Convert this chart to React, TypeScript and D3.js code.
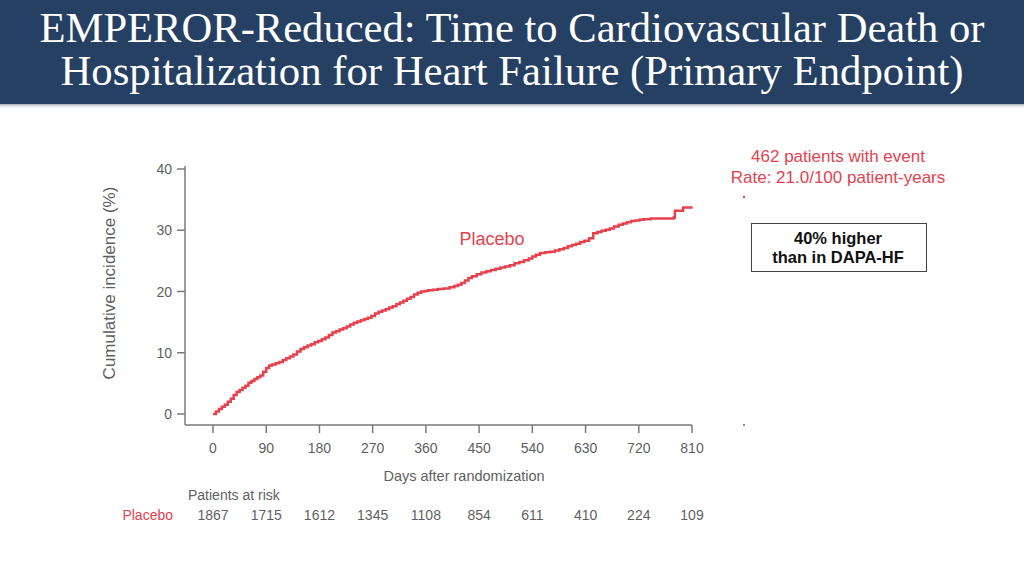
import React from 'react';
import * as d3 from 'd3';

const titleLines = [
  'EMPEROR-Reduced: Time to Cardiovascular Death or',
  'Hospitalization for Heart Failure (Primary Endpoint)',
];

const xTicks = [0, 90, 180, 270, 360, 450, 540, 630, 720, 810];
const yTicks = [0, 10, 20, 30, 40];
const atRisk = [1867, 1715, 1612, 1345, 1108, 854, 611, 410, 224, 109];

const days = [
  0, 5, 10, 15, 20, 25, 30, 35, 40, 45, 50, 55, 60, 65, 70, 75, 80, 85, 90, 95, 100, 106, 112, 118, 124, 130, 136, 142, 148,
  154, 160, 166, 172, 178, 184, 190, 196, 202, 208, 214, 220, 226, 232, 238, 244, 250, 256, 262, 268, 274, 280, 286, 292,
  298, 304, 310, 316, 322, 328, 334, 340, 346, 352, 358, 364, 372, 380, 390, 400, 408, 414, 420, 426, 432, 438, 446, 454,
  462, 470, 478, 486, 494, 502, 510, 518, 526, 534, 540, 546, 553, 562, 570, 578, 586, 593, 600, 607, 614, 621, 628, 636,
  643, 650, 657, 664, 671, 678, 686, 693, 700, 707, 714, 721, 728, 740, 750, 765, 779, 781, 795, 811,
];
const incidence = [
  0, 0.4, 0.8, 1.2, 1.5, 2.0, 2.5, 3.1, 3.6, 3.9, 4.3, 4.6, 5.1, 5.4, 5.7, 6.0, 6.3, 6.9, 7.5, 7.9, 8.1, 8.3, 8.5, 8.8, 9.1,
  9.4, 9.7, 10.2, 10.6, 10.9, 11.2, 11.4, 11.7, 11.9, 12.2, 12.5, 12.9, 13.3, 13.5, 13.8, 14.0, 14.3, 14.6, 14.9, 15.1, 15.3,
  15.5, 15.7, 16.0, 16.4, 16.7, 16.9, 17.1, 17.4, 17.6, 17.9, 18.2, 18.5, 18.8, 19.1, 19.5, 19.8, 20.0, 20.1, 20.2, 20.3,
  20.4, 20.5, 20.7, 20.9, 21.1, 21.4, 21.8, 22.2, 22.5, 22.8, 23.1, 23.3, 23.5, 23.7, 23.9, 24.1, 24.3, 24.6, 24.8, 25.1,
  25.4, 25.7, 26.0, 26.3, 26.4, 26.5, 26.7, 26.9, 27.1, 27.4, 27.6, 27.8, 28.1, 28.3, 28.7, 29.5, 29.7, 29.9, 30.1, 30.3,
  30.6, 30.9, 31.1, 31.3, 31.5, 31.6, 31.7, 31.8, 31.9, 31.9, 31.9, 32.1, 33.2, 33.7, 33.7,
];

const annotationLines = ['462 patients with event', 'Rate: 21.0/100 patient-years'];
const boxLines = ['40% higher', 'than in DAPA-HF'];

const RED = '#e5424f';
const GREY_AXIS = '#7a7a7a';
const GREY_TEXT = '#5f5f5f';
const SANS = 'Liberation Sans, Arial, Helvetica, sans-serif';

export default function App() {
  const x = d3.scaleLinear().domain([0, 810]).range([213, 692]);
  const y = d3.scaleLinear().domain([0, 40]).range([414, 169]);
  const pts = days.map((d, i) => [d, incidence[i]] as [number, number]);
  const line = d3
    .line<[number, number]>()
    .x((d) => x(d[0]))
    .y((d) => y(d[1]))
    .curve(d3.curveStepAfter);

  const axisY = 425;
  const axisX = 185;

  return (
    <svg
      width={1024}
      height={576}
      style={{ position: 'absolute', left: 0, top: 0, background: '#fff' }}
    >
      <defs>
        <linearGradient id="shadow" x1="0" y1="0" x2="0" y2="1">
          <stop offset="0" stopColor="#8a96a6" stopOpacity={0.8} />
          <stop offset="1" stopColor="#ffffff" stopOpacity={0} />
        </linearGradient>
      </defs>
      <rect x={0} y={0} width={1024} height={104} fill="#254062" />
      <rect x={0} y={104} width={1024} height={5} fill="url(#shadow)" />
      {titleLines.map((t, i) => (
        <text
          key={i}
          x={512}
          y={42 + i * 42.5}
          textAnchor="middle"
          fill="#ffffff"
          fontFamily="Liberation Serif, Times New Roman, serif"
          fontSize={42}
          textLength={i === 0 ? 945 : 903}
          lengthAdjust="spacingAndGlyphs"
        >
          {t}
        </text>
      ))}

      {/* y axis */}
      <line x1={axisX} x2={axisX} y1={y(40) - 3} y2={axisY} stroke={GREY_AXIS} strokeWidth={1.5} />
      {yTicks.map((t) => (
        <g key={t}>
          <line x1={axisX - 8} x2={axisX} y1={y(t)} y2={y(t)} stroke={GREY_AXIS} strokeWidth={1.5} />
          <text
            x={axisX - 13}
            y={y(t) + 5}
            textAnchor="end"
            fill={GREY_TEXT}
            fontFamily={SANS}
            fontSize={14}
          >
            {t}
          </text>
        </g>
      ))}
      <text
        transform={`translate(115,283) rotate(-90)`}
        textAnchor="middle"
        fill={GREY_TEXT}
        fontFamily={SANS}
        fontSize={17}
      >
        Cumulative incidence (%)
      </text>

      {/* x axis */}
      <line x1={axisX} x2={x(810)} y1={axisY} y2={axisY} stroke={GREY_AXIS} strokeWidth={1.5} />
      {xTicks.map((t) => (
        <g key={t}>
          <line x1={x(t)} x2={x(t)} y1={axisY} y2={axisY + 8} stroke={GREY_AXIS} strokeWidth={1.5} />
          <text
            x={x(t)}
            y={453}
            textAnchor="middle"
            fill={GREY_TEXT}
            fontFamily={SANS}
            fontSize={14}
          >
            {t}
          </text>
        </g>
      ))}
      <text x={464} y={481} textAnchor="middle" fill={GREY_TEXT} fontFamily={SANS} fontSize={14.5}>
        Days after randomization
      </text>

      {/* at risk */}
      <text x={188} y={500} fill={GREY_TEXT} fontFamily={SANS} fontSize={14}>
        Patients at risk
      </text>
      <text x={173} y={520} textAnchor="end" fill={RED} fontFamily={SANS} fontSize={14}>
        Placebo
      </text>
      {atRisk.map((n, i) => (
        <text
          key={i}
          x={x(xTicks[i])}
          y={520}
          textAnchor="middle"
          fill={GREY_TEXT}
          fontFamily={SANS}
          fontSize={14}
        >
          {n}
        </text>
      ))}

      {/* curve */}
      <path d={line(pts) || ''} fill="none" stroke={RED} strokeWidth={2.5} />
      <text x={492} y={245} textAnchor="middle" fill={RED} fontFamily={SANS} fontSize={18}>
        Placebo
      </text>

      {/* annotation */}
      {annotationLines.map((t, i) => (
        <text
          key={i}
          x={838}
          y={162 + i * 21}
          textAnchor="middle"
          fill={RED}
          fontFamily={SANS}
          fontSize={17}
        >
          {t}
        </text>
      ))}
      <rect x={743} y={196} width={2} height={2} fill={RED} />
      <rect x={743} y={424} width={2} height={2} fill="#888" />

      <rect x={751.5} y={223.5} width={175} height={48} fill="#fff" stroke="#444" strokeWidth={1} />
      {boxLines.map((t, i) => (
        <text
          key={i}
          x={838}
          y={244 + i * 19}
          textAnchor="middle"
          fill="#111"
          fontFamily={SANS}
          fontWeight="bold"
          fontSize={16.5}
        >
          {t}
        </text>
      ))}
    </svg>
  );
}
